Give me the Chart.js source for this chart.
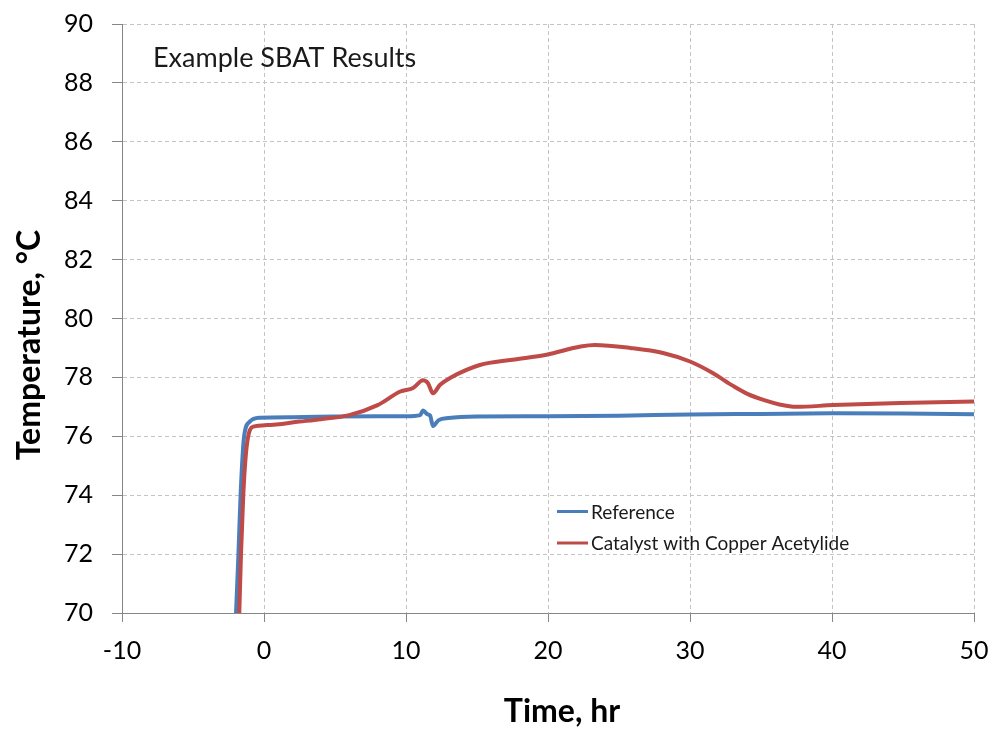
<!DOCTYPE html>
<html>
<head>
<meta charset="utf-8">
<script src="https://cdn.jsdelivr.net/npm/chart.js@4/dist/chart.umd.min.js"></script>
<style>
  html, body { margin: 0; padding: 0; background: #fff; }
  #wrap { width: 992px; height: 729px; }
</style>
</head>
<body>
<div id="wrap"><canvas id="sbatChart" width="992" height="729"></canvas></div>
<script>
// Datos
const chartTitle = 'Example SBAT Results';
const xAxisTitle = 'Time, hr';
const yAxisTitle = 'Temperature, °C';

const xTicks = [-10, 0, 10, 20, 30, 40, 50];
const yTicks = [70, 72, 74, 76, 78, 80, 82, 84, 86, 88, 90];

const refLabel = 'Reference';
const refTime = [-1.97, -1.8, -1.65, -1.4, -1.0, -0.3, 2, 5, 8, 10, 11.0, 11.2, 11.5, 11.7, 11.9, 12.3, 13, 15, 20, 25, 30, 35, 40, 45, 50];
const refTemp = [70, 72, 74, 76, 76.5, 76.63, 76.65, 76.67, 76.68, 76.68, 76.72, 76.88, 76.75, 76.7, 76.35, 76.55, 76.62, 76.67, 76.68, 76.7, 76.74, 76.76, 76.78, 76.77, 76.75];

const catLabel = 'Catalyst with Copper Acetylide';
const catTime = [-1.74, -1.62, -1.46, -1.22, -0.75, 0.2, 2.5, 4, 6, 8, 9.6, 10.5, 11.2, 11.55, 11.9, 12.4, 13.1, 15.2, 17.5, 19.9, 22.3, 23.3, 25.8, 28.1, 30, 31.6, 33, 34, 35.4, 36.3, 37.5, 40.1, 44.8, 50];
const catTemp = [70, 72, 74, 75.65, 76.33, 76.38, 76.5, 76.58, 76.72, 77.06, 77.52, 77.64, 77.9, 77.8, 77.46, 77.75, 77.98, 78.42, 78.6, 78.77, 79.05, 79.1, 79.0, 78.83, 78.54, 78.15, 77.72, 77.45, 77.2, 77.08, 77.0, 77.06, 77.13, 77.18];

const FONT = 'Lato';

function toPoints(xs, ys) {
    return xs.map((x, i) => ({ x: x, y: ys[i] }));
}

// Textos dibujados a mano: titulo interno, leyenda y titulos de ejes
const extrasPlugin = {
    id: 'extras',
    afterDraw(chart) {
        const ctx = chart.ctx;
        const area = chart.chartArea;
        ctx.save();
        ctx.fillStyle = '#1a1a1a';
        ctx.textBaseline = 'alphabetic';
        ctx.textAlign = 'left';
        ctx.font = '27px ' + FONT;
        ctx.fillText(chartTitle, area.left + 31, 67);

        // leyenda
        ctx.font = '19px ' + FONT;
        ctx.textBaseline = 'middle';
        const rows = [511.5, 543];
        chart.data.datasets.forEach((ds, i) => {
            const y = rows[i];
            ctx.strokeStyle = ds.borderColor;
            ctx.lineWidth = 3;
            ctx.beginPath();
            ctx.moveTo(557, y);
            ctx.lineTo(588, y);
            ctx.stroke();
            ctx.fillStyle = '#1a1a1a';
            ctx.fillText(ds.label, 591, y + 1);
        });

        // titulos de ejes
        ctx.fillStyle = '#000';
        ctx.font = 'bold 32px ' + FONT;
        ctx.textAlign = 'center';
        ctx.textBaseline = 'middle';
        ctx.fillText(xAxisTitle, 562, 712);
        ctx.translate(30, 345);
        ctx.rotate(-Math.PI / 2);
        ctx.fillText(yAxisTitle, 0, 0);
        ctx.restore();
    }
};

const ctx = document.getElementById('sbatChart').getContext('2d');

new Chart(ctx, {
    type: 'line',
    data: {
        datasets: [
            {
                label: refLabel,
                data: toPoints(refTime, refTemp),
                borderColor: '#4a7ebb',
                borderWidth: 4,
                pointRadius: 0,
                cubicInterpolationMode: 'monotone',
                order: 1
            },
            {
                label: catLabel,
                data: toPoints(catTime, catTemp),
                borderColor: '#be4b48',
                borderWidth: 4,
                pointRadius: 0,
                cubicInterpolationMode: 'monotone',
                order: 0
            }
        ]
    },
    options: {
        responsive: false,
        animation: false,
        events: [],
        layout: { padding: { left: 0, right: 18, top: 24, bottom: 0 } },
        plugins: {
            legend: { display: false },
            tooltip: { enabled: false }
        },
        scales: {
            x: {
                type: 'linear',
                min: xTicks[0],
                max: xTicks[xTicks.length - 1],
                afterBuildTicks: (scale) => { scale.ticks = xTicks.map(v => ({ value: v })); },
                afterFit: (scale) => {
                    scale.height = 116;
                    scale.paddingLeft = 0;
                    scale.paddingRight = 0;
                },
                ticks: {
                    color: '#000',
                    font: { family: FONT, size: 25 },
                    padding: 14,
                    maxRotation: 0
                },
                grid: {
                    color: '#c4c4c4',
                    tickColor: '#868686',
                    tickLength: 9
                },
                border: { color: '#868686', width: 1, dash: [4, 3] }
            },
            y: {
                type: 'linear',
                min: yTicks[0],
                max: yTicks[yTicks.length - 1],
                afterBuildTicks: (scale) => { scale.ticks = yTicks.map(v => ({ value: v })); },
                afterFit: (scale) => {
                    scale.width = 122;
                    scale.paddingTop = 0;
                    scale.paddingBottom = 0;
                },
                ticks: {
                    color: '#000',
                    font: { family: FONT, size: 25 },
                    padding: 19
                },
                grid: {
                    color: '#c4c4c4',
                    tickColor: '#868686',
                    tickLength: 10
                },
                border: { color: '#868686', width: 1, dash: [4, 3] }
            }
        }
    },
    plugins: [extrasPlugin]
});
</script>
</body>
</html>
